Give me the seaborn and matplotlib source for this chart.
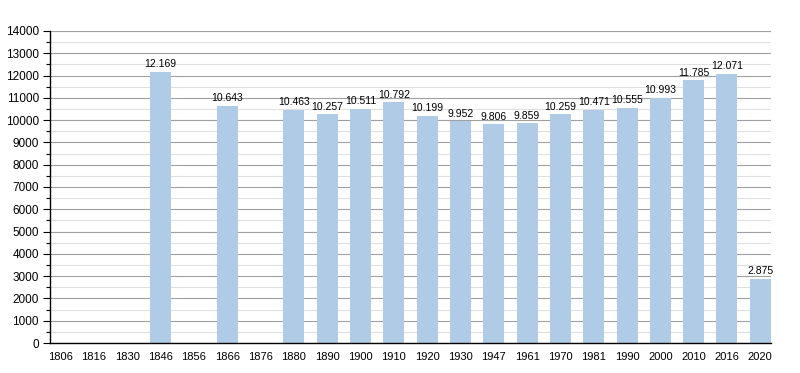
import numpy as np
import pandas as pd
import matplotlib
matplotlib.use("Agg")
import matplotlib.pyplot as plt
from matplotlib.ticker import MultipleLocator
import seaborn as sns

years = ["1806", "1816", "1830", "1846", "1856", "1866", "1876", "1880", "1890",
         "1900", "1910", "1920", "1930", "1947", "1961", "1970", "1981", "1990",
         "2000", "2010", "2016", "2020"]
population = [np.nan, np.nan, np.nan, 12169, np.nan, 10643, np.nan, 10463, 10257,
              10511, 10792, 10199, 9952, 9806, 9859, 10259, 10471, 10555,
              10993, 11785, 12071, 2875]

sns.set_style("white")
plt.rcParams["font.family"] = ["Liberation Sans", "DejaVu Sans"]
plt.rcParams["text.color"] = "black"
plt.rcParams["xtick.color"] = "black"
plt.rcParams["ytick.color"] = "black"

df = pd.DataFrame({"year": years, "pop": population})

fig = plt.figure(figsize=(8, 3.73), dpi=100)
ax = fig.add_axes([0.0625, 0.0804, 0.901, 0.8366])

sns.barplot(data=df, x="year", y="pop", ax=ax, color="#b0cbe6",
            saturation=1, width=0.63, order=years, linewidth=0)

for i, v in enumerate(population):
    if not np.isnan(v):
        ax.text(i, v + 120, f"{int(v):,}".replace(",", "."),
                ha="center", va="bottom", fontsize=7.5, color="black")

ax.set_ylim(0, 14000)
ax.set_xlim(-0.315, len(years) - 1 + 0.315)
ax.yaxis.set_major_locator(MultipleLocator(1000))
ax.yaxis.set_minor_locator(MultipleLocator(500))
ax.grid(axis="y", which="major", color="#a0a0a0", linewidth=0.8)
ax.grid(axis="y", which="minor", color="#e0e0e0", linewidth=0.8)
ax.set_axisbelow(True)

for s in ["top", "right"]:
    ax.spines[s].set_visible(False)
ax.spines["left"].set_color("black")
ax.spines["bottom"].set_color("black")
ax.spines["left"].set_linewidth(1)
ax.spines["bottom"].set_linewidth(1)

ax.tick_params(axis="y", which="major", left=True, length=5, width=0.8,
               labelsize=8.5, pad=3)
ax.tick_params(axis="y", which="minor", left=True, length=3, width=0.8)
ax.tick_params(axis="x", bottom=False, labelsize=8, pad=3)
ax.set_xlabel("")
ax.set_ylabel("")

fig.savefig("out.png", dpi=100)
